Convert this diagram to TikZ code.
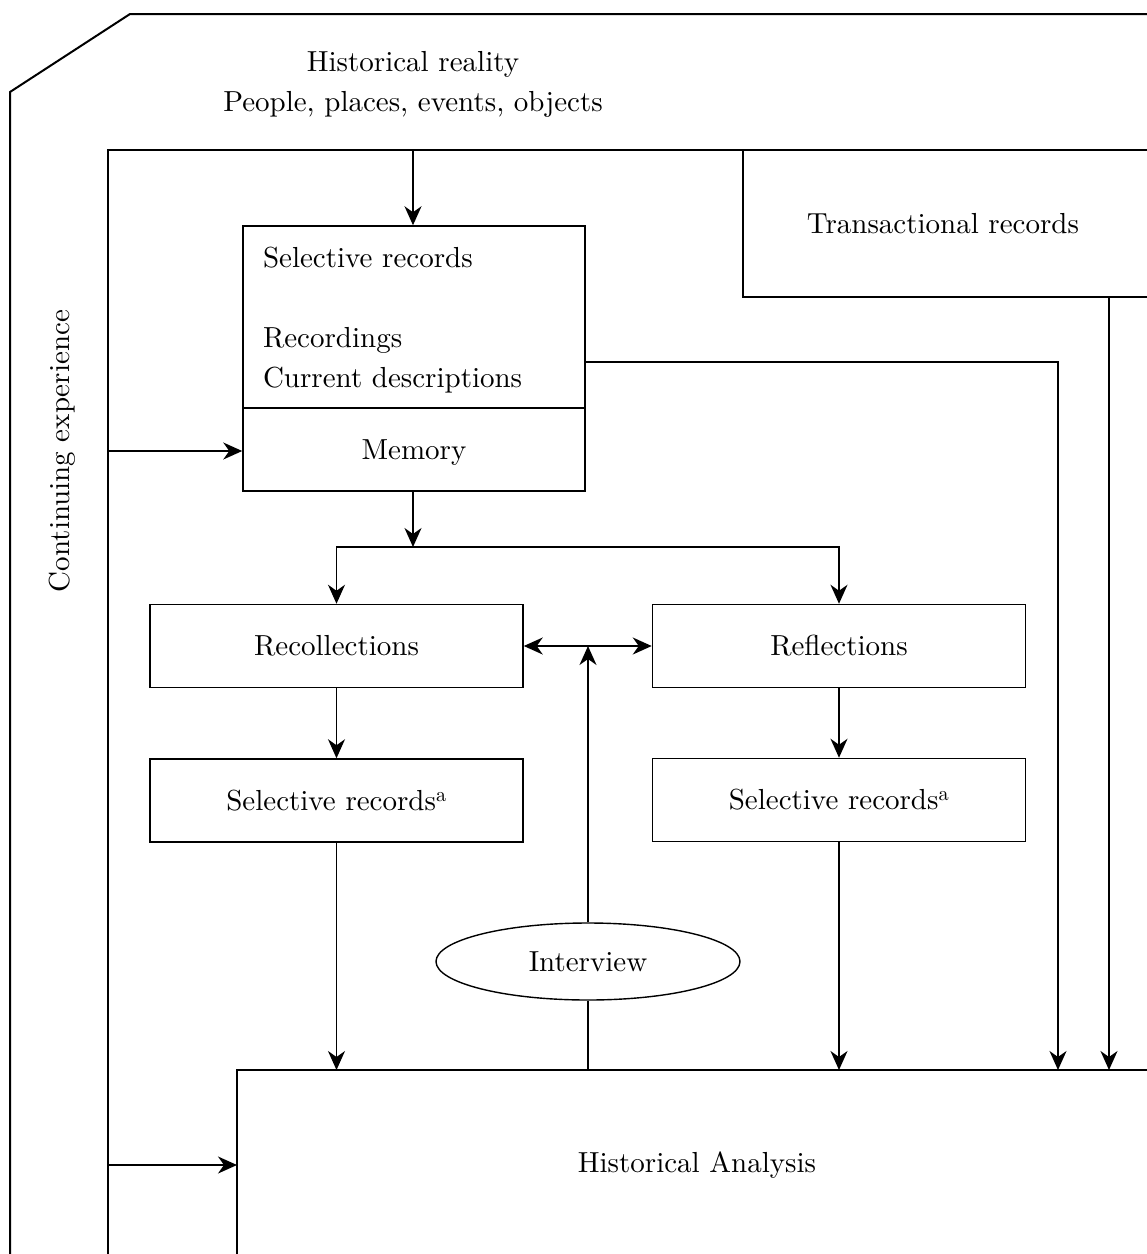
\documentclass[tikz,border=0pt]{standalone}
\usepackage{fontspec}
\setmainfont{lmroman10-regular.otf}
\usetikzlibrary{arrows.meta,shapes.geometric}
\begin{document}
\begin{tikzpicture}[x=1pt,y=-1pt,
  font=\fontsize{29}{40}\selectfont,
  box/.style={draw, line width=1.5pt, minimum width=373pt, minimum height=83pt, inner sep=0pt},
  arr/.style={-{Stealth[length=19pt,width=17pt,inset=6pt]}, line width=1.5pt},
  darr/.style={{Stealth[length=19pt,width=17pt,inset=6pt]}-{Stealth[length=19pt,width=17pt,inset=6pt]}, line width=1.5pt},
  plain/.style={line width=1.5pt},
  frame/.style={line width=2pt},
  txt/.style={inner sep=0pt, align=center}]
\useasboundingbox (0,0) rectangle (1147,1254);
% outer frame
\draw[frame] (10,1254) -- (10,92) -- (130,14) -- (1147,14);
% inner frame
\draw[line width=1.6pt] (108,1254) -- (108,150) -- (1147,150);
% transactional box
\draw[line width=1.6pt] (743,150) -- (743,297) -- (1147,297);
\node[txt] (trans) at (943,224) {Transactional records};
% historical analysis box
\draw[line width=1.6pt] (237,1254) -- (237,1070) -- (1147,1070);
\node[txt] (ha) at (697,1165) {Historical Analysis};
% top text
\node[txt] (hist) at (413,84) {Historical reality\\People, places, events, objects};
\node[txt, rotate=90] (cont) at (62,451) {Continuing experience};
% selective records / memory
\node[draw, line width=1.5pt, text width=302pt, inner xsep=20pt, inner ysep=0pt, minimum height=182pt, align=left] (sel) at (414,317)
  {\rule{0pt}{26pt}Selective records\\ \mbox{}\\ Recordings\\ Current descriptions};
\node[draw, line width=1.5pt, minimum width=342pt, minimum height=83pt, inner sep=0pt, text depth=0pt] (mem) at (414,449.5) {Memory};
% boxes
\node[box] (recol) at (336.5,646) {Recollections};
\node[box] (refl) at (839,646) {Reflections};
\node[box] (selL) at (336.5,800.5) {Selective records\textsuperscript{a}};
\node[box] (selR) at (839,800) {Selective records\textsuperscript{a}};
\node[draw, ellipse, line width=1.4pt, minimum width=304pt, minimum height=77pt, inner sep=0pt] (int) at (588,961.5) {Interview};
% coordinates
\coordinate (topIn) at (413,150);
\coordinate (split) at (413,547);
\coordinate (inL1) at (108,451);
\coordinate (inL2) at (108,1165);
\coordinate (haL) at (237,1165);
\coordinate (haTop) at (697,1070);
\coordinate (selOut) at (585,362);
\coordinate (haIn1) at (1058,1070);
\coordinate (transB) at (1109,297);
\coordinate (haIn2) at (1109,1070);
% connectors
\draw[arr] (topIn) -- (sel.north -| topIn);
\draw[arr] (inL1) -- (mem.west |- inL1);
\draw[arr] (mem.south -| split) -- (split);
\draw[arr] (split) -| (recol.north);
\draw[arr] (split) -| (refl.north);
\draw[darr] (recol.east) -- (refl.west);
\draw[arr] (int.north) -- (int.north |- recol.east);
\draw[plain] (int.south) -- (int.south |- haTop);
\draw[arr] (recol.south) -- (selL.north);
\draw[arr] (refl.south) -- (selR.north);
\draw[arr] (selL.south) -- (selL.south |- haTop);
\draw[arr] (selR.south) -- (selR.south |- haTop);
\draw[arr] (selOut) -| (haIn1);
\draw[arr] (transB) -- (haIn2);
\draw[arr] (inL2) -- (haL);
\end{tikzpicture}
\end{document}
